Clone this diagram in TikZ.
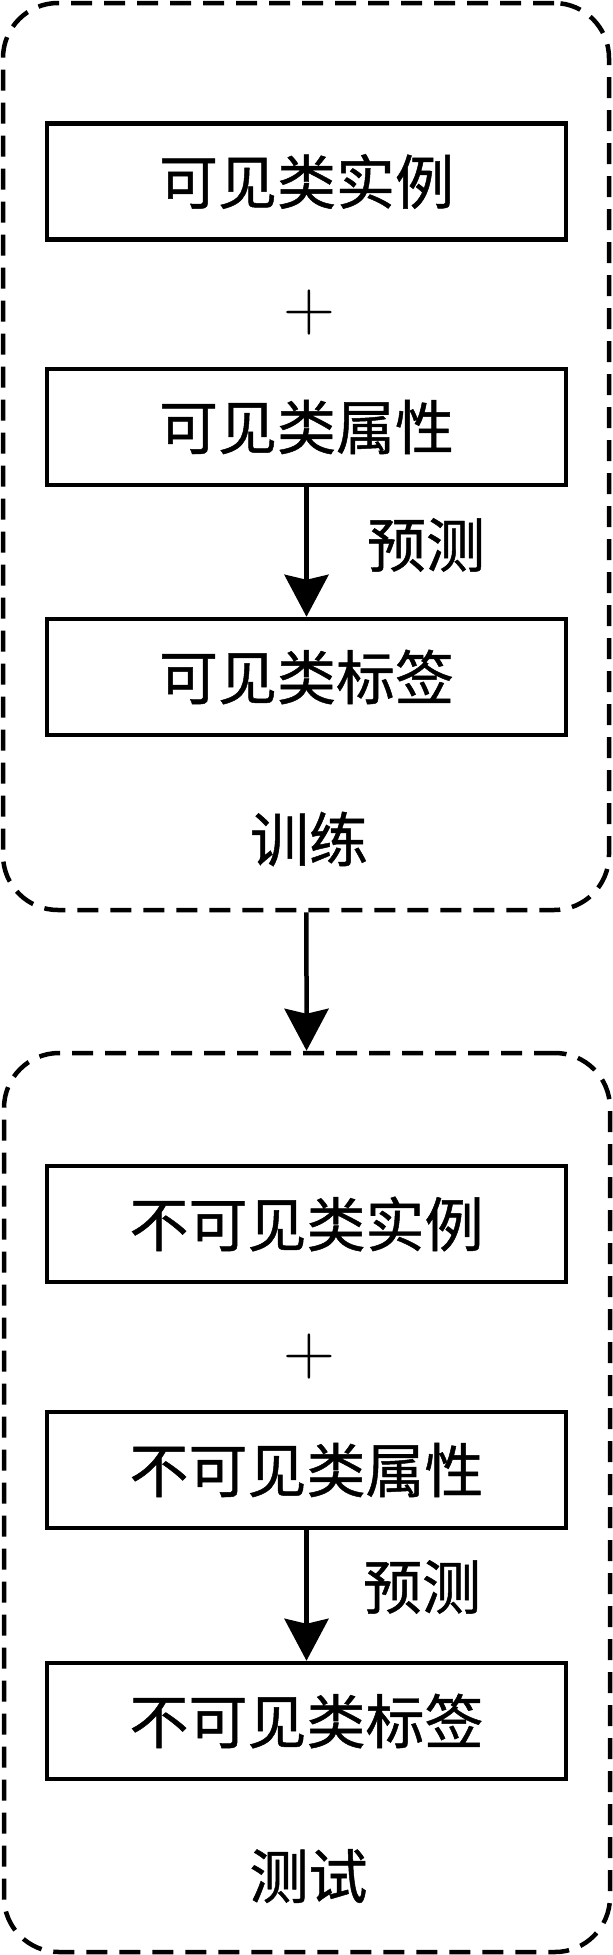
\documentclass[tikz,border=0pt]{standalone}
\usepackage{fontspec}
\newfontfamily\cjk[FakeBold=0.8]{Noto Sans CJK SC}
\usetikzlibrary{arrows.meta}
\begin{document}
\begin{tikzpicture}[x=1pt,y=-1pt,
  group/.style={draw, line width=4.5pt, dash pattern=on 21pt off 12pt, rounded corners=55pt, inner sep=0pt},
  stepbox/.style={draw, line width=4.5pt, minimum width=519pt, minimum height=116pt, inner sep=0pt, font=\cjk\fontsize{59}{62}\selectfont},
  lbl/.style={inner sep=0pt, font=\cjk\fontsize{59}{62}\selectfont},
  plus/.style={inner sep=0pt, font=\fontsize{72}{72}\selectfont},
  conn/.style={line width=4.5pt, -{Stealth[length=42pt, width=44pt, inset=5pt]}}]
\useasboundingbox (0,0) rectangle (613,1955);
% groups
\node[group, minimum width=606pt, minimum height=907pt] (train) at (306,456.5) {};
\node[group, minimum width=606pt, minimum height=899pt] (test) at (307,1502.5) {};
% training
\node[stepbox] (a1) at (306.5,181.5) {可见类实例};
\node[plus] (p1) at (309,313) {+};
\node[stepbox] (a2) at (306.5,427) {可见类属性};
\node[stepbox] (a3) at (306.5,677) {可见类标签};
\node[lbl] (pr1) at (426,545) {预测};
\node[lbl] (t1) at (309,839) {训练};
% testing
\node[stepbox] (b1) at (306.5,1224) {不可见类实例};
\node[plus] (p2) at (309,1357) {+};
\node[stepbox] (b2) at (306.5,1470) {不可见类属性};
\node[stepbox] (b3) at (306.5,1721) {不可见类标签};
\node[lbl] (pr2) at (422,1587) {预测};
\node[lbl] (t2) at (308.5,1876) {测试};
% connectors
\draw[conn] (a2) -- (a3);
\draw[conn] (b2) -- (b3);
\draw[conn] (train) -- (test);
\end{tikzpicture}
\end{document}
